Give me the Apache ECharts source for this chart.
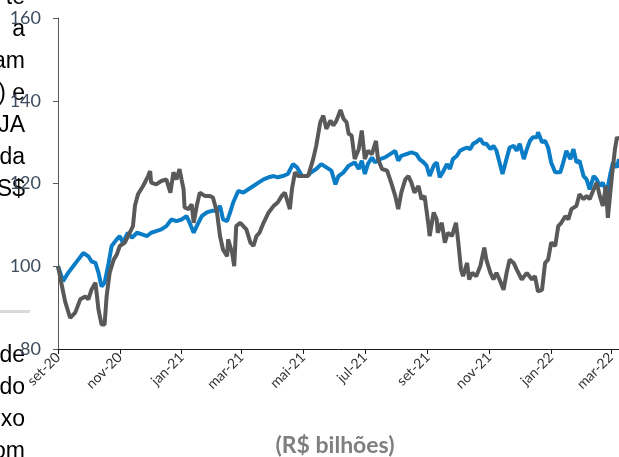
<!DOCTYPE html>
<html>
<head>
<meta charset="utf-8">
<script src="https://cdn.jsdelivr.net/npm/echarts@6/dist/echarts.min.js"></script>
<style>html,body{margin:0;padding:0;background:#fff}#c{width:619px;height:457px}</style>
</head>
<body>
<div id="c"></div>
<script>
// ---- data ----
const tickDates = ['2020-09-01','2020-11-01','2021-01-01','2021-03-01','2021-05-01','2021-07-01','2021-09-01','2021-11-01','2022-01-01','2022-03-01'];
const tickLabels = ['set-20','nov-20','jan-21','mar-21','mai-21','jul-21','set-21','nov-21','jan-22','mar-22'];
const yTicks = [80,100,120,140,160];
const xRange = ['2020-09-01','2022-03-09'];

const grayDates = ['2020-09-01','2020-09-05','2020-09-08','2020-09-13','2020-09-18','2020-09-23','2020-09-28','2020-10-01','2020-10-04','2020-10-08','2020-10-11','2020-10-14','2020-10-17','2020-10-19','2020-10-22','2020-10-26','2020-10-29','2020-11-01','2020-11-06','2020-11-11','2020-11-14','2020-11-16','2020-11-19','2020-11-24','2020-11-29','2020-12-01','2020-12-02','2020-12-07','2020-12-12','2020-12-17','2020-12-21','2020-12-24','2020-12-27','2020-12-30','2021-01-01','2021-01-03','2021-01-04','2021-01-08','2021-01-11','2021-01-13','2021-01-16','2021-01-19','2021-01-24','2021-01-29','2021-02-01','2021-02-05','2021-02-08','2021-02-11','2021-02-15','2021-02-16','2021-02-20','2021-02-22','2021-02-24','2021-02-28','2021-03-03','2021-03-06','2021-03-10','2021-03-13','2021-03-16','2021-03-19','2021-03-23','2021-03-28','2021-04-02','2021-04-06','2021-04-10','2021-04-13','2021-04-15','2021-04-18','2021-04-20','2021-04-23','2021-04-26','2021-05-01','2021-05-06','2021-05-11','2021-05-14','2021-05-18','2021-05-21','2021-05-24','2021-05-28','2021-05-31','2021-06-03','2021-06-07','2021-06-10','2021-06-13','2021-06-15','2021-06-18','2021-06-21','2021-06-25','2021-06-28','2021-07-01','2021-07-04','2021-07-08','2021-07-12','2021-07-14','2021-07-18','2021-07-23','2021-07-27','2021-07-31','2021-08-03','2021-08-06','2021-08-10','2021-08-13','2021-08-16','2021-08-19','2021-08-23','2021-08-26','2021-08-29','2021-09-02','2021-09-03','2021-09-07','2021-09-10','2021-09-11','2021-09-15','2021-09-18','2021-09-21','2021-09-25','2021-09-29','2021-10-01','2021-10-04','2021-10-06','2021-10-10','2021-10-12','2021-10-15','2021-10-19','2021-10-23','2021-10-27','2021-10-29','2021-11-02','2021-11-05','2021-11-08','2021-11-11','2021-11-15','2021-11-18','2021-11-21','2021-11-25','2021-11-28','2021-12-03','2021-12-08','2021-12-13','2021-12-16','2021-12-19','2021-12-23','2021-12-26','2021-12-29','2022-01-01','2022-01-05','2022-01-08','2022-01-11','2022-01-15','2022-01-18','2022-01-21','2022-01-26','2022-01-29','2022-02-02','2022-02-05','2022-02-08','2022-02-12','2022-02-15','2022-02-18','2022-02-21','2022-02-24','2022-02-26','2022-03-02','2022-03-05','2022-03-07','2022-03-09'];
const grayValues = [100,95.1,91.5,87.5,88.8,92,92.7,92,94.3,96,89.5,85.9,85.9,92.7,98.4,101.6,102.8,104.9,105.7,108.2,109.7,114.6,117.4,119.4,121.8,123,120.2,119.8,120.6,121,117.8,122.7,121,123.5,121,118.6,114.2,113.8,115,110.5,114.6,117.8,117,117,116.6,113,107.3,104,102.4,106.5,103.2,100,109.7,110.5,109.7,108.9,105.7,104.9,107.3,108.1,110.5,113,114.6,115.4,117,117.8,116.2,113.8,118.6,122.7,121.8,121.8,121.8,125.9,129.1,134.8,136.4,133.2,135.2,134,135.2,137.8,135.6,134.8,132,131.6,125.9,128.3,132.8,125.9,127.9,127.1,130.3,125.9,123.5,123.1,120.2,117,113.8,117.8,121,121.8,120.2,117.8,119.4,116.2,117,109.7,107.3,113,111.3,108.1,110.5,105.7,108.1,107.3,110.5,106.5,99.2,97.6,100.8,96.8,98.4,97.6,100,104.5,101.6,98.4,96.8,98.4,96.8,94.3,98.4,101.6,100.8,99.2,96.8,98.4,96.8,97.6,93.9,94.3,100.8,101.6,105.7,104.9,109.7,110.5,112.1,111.3,113.8,114.6,117.4,116.2,117,116.2,118.6,120.2,117,114.6,119.4,111.7,121.8,128.3,131.2,130.5];

const blueDates = ['2020-09-01','2020-09-06','2020-09-11','2020-09-16','2020-09-21','2020-09-26','2020-10-01','2020-10-04','2020-10-08','2020-10-11','2020-10-14','2020-10-17','2020-10-21','2020-10-24','2020-10-29','2020-11-01','2020-11-04','2020-11-09','2020-11-13','2020-11-18','2020-11-23','2020-11-28','2020-12-02','2020-12-07','2020-12-12','2020-12-17','2020-12-22','2020-12-27','2021-01-01','2021-01-06','2021-01-09','2021-01-13','2021-01-16','2021-01-21','2021-01-26','2021-01-31','2021-02-05','2021-02-08','2021-02-11','2021-02-15','2021-02-18','2021-02-21','2021-02-26','2021-03-03','2021-03-08','2021-03-13','2021-03-18','2021-03-23','2021-03-28','2021-04-02','2021-04-06','2021-04-11','2021-04-16','2021-04-21','2021-04-25','2021-04-30','2021-05-05','2021-05-09','2021-05-14','2021-05-19','2021-05-24','2021-05-29','2021-06-02','2021-06-05','2021-06-10','2021-06-15','2021-06-21','2021-06-25','2021-06-28','2021-07-01','2021-07-04','2021-07-08','2021-07-11','2021-07-16','2021-07-21','2021-07-26','2021-07-31','2021-08-03','2021-08-06','2021-08-11','2021-08-16','2021-08-21','2021-08-24','2021-08-28','2021-08-31','2021-09-03','2021-09-07','2021-09-10','2021-09-13','2021-09-16','2021-09-20','2021-09-23','2021-09-26','2021-09-30','2021-10-03','2021-10-06','2021-10-10','2021-10-13','2021-10-16','2021-10-19','2021-10-23','2021-10-26','2021-10-29','2021-11-02','2021-11-05','2021-11-08','2021-11-11','2021-11-14','2021-11-17','2021-11-21','2021-11-25','2021-11-28','2021-12-01','2021-12-05','2021-12-08','2021-12-11','2021-12-14','2021-12-18','2021-12-19','2021-12-23','2021-12-26','2021-12-29','2022-01-01','2022-01-05','2022-01-10','2022-01-13','2022-01-16','2022-01-20','2022-01-23','2022-01-26','2022-01-29','2022-02-02','2022-02-05','2022-02-08','2022-02-12','2022-02-15','2022-02-18','2022-02-21','2022-02-25','2022-02-28','2022-03-03','2022-03-07','2022-03-09'];
const blueValues = [100,96.4,98.4,100,101.6,103.2,102.4,101.2,100.8,98.4,95.1,96,100.8,104.9,106.5,107.3,105.7,108.1,106.9,108.1,107.7,107.3,108.1,108.5,108.9,109.7,111.3,110.9,111.3,112.1,110.5,108.1,109.7,112.1,113,113.4,113.4,114.6,111.3,110.9,113,115.4,118.2,117.8,118.6,119.4,120.2,121,121.5,121.8,121.5,121.8,122.3,124.7,123.9,121.8,121.8,122.7,123.5,124.7,123.9,123.1,119.8,121.8,122.7,124.3,125.1,123.5,125.5,122.3,124.7,126.3,125.1,125.9,126.3,127.1,127.9,125.5,126.7,127.1,127.5,127.1,125.9,125.1,124.3,121.8,124.3,125.1,121.5,122.7,124.7,123.5,125.9,126.7,127.9,128.3,128.7,128.3,129.6,130,130.8,129.6,129.6,128.3,129.1,127.9,125.1,122.3,125.1,128.7,129.1,127.9,129.6,125.9,128.3,130.3,131.2,131.2,132.4,130,130.3,128.7,125.1,122.7,122.7,125.1,127.9,125.9,128.3,125.1,125.5,121.8,121,118.6,121.8,121,119.4,120.2,117.8,121.8,125.1,123.9,125.9];

const titleText = '(R$ bilhões)';
const upperFragments = ['te','a','am',') e','JA','da','S$'];
const lowerFragments = ['de','do','xo','om'];

// ---- chart ----
const ts = d => +echarts.time.parse(d);
const zip = (d, v) => d.map((x, i) => [ts(x), v[i]]);
const tickTs = tickDates.map(ts);

const fragFont = '23px "Liberation Sans"';
const graphics = [];
upperFragments.forEach((t, i) => graphics.push({
  type: 'text', x: 25, y: -2 + i * 32,
  style: { text: t, fill: '#000', font: fragFont, align: 'right', verticalAlign: 'middle' }, z: 0
}));
lowerFragments.forEach((t, i) => graphics.push({
  type: 'text', x: 25, y: 356 + i * 32,
  style: { text: t, fill: '#000', font: fragFont, align: 'right', verticalAlign: 'middle' }, z: 0
}));
graphics.push({ type: 'rect', shape: { x: 0, y: 310, width: 30, height: 3 }, style: { fill: '#d9d9d9' }, z: 0 });
graphics.push({
  type: 'text', x: 335, y: 446,
  style: { text: titleText, fill: '#7f7f7f', font: 'bold 23px Lato', align: 'center', verticalAlign: 'middle' }, z: 5
});

const chart = echarts.init(document.getElementById('c'), null, { renderer: 'canvas' });
chart.setOption({
  animation: false,
  backgroundColor: '#fff',
  graphic: graphics,
  grid: { left: 58, right: 0, top: 18, bottom: 108, containLabel: false },
  xAxis: {
    type: 'value',
    min: ts(xRange[0]), max: ts(xRange[1]),
    axisLine: { show: true, onZero: false, lineStyle: { color: '#1a1a1a', width: 1 } },
    axisTick: { show: true, length: 5, inside: false, customValues: tickTs, lineStyle: { color: '#1a1a1a' } },
    axisLabel: {
      show: true, rotate: 45, margin: 6, customValues: tickTs,
      color: '#333333', fontFamily: 'Lato', fontSize: 14,
      formatter: (val) => { const i = tickTs.indexOf(val); return i >= 0 ? tickLabels[i] : ''; },
      showMinLabel: true, showMaxLabel: true, hideOverlap: false
    },
    splitLine: { show: false }
  },
  yAxis: {
    type: 'value', min: yTicks[0], max: yTicks[yTicks.length - 1], interval: 20,
    axisLine: { show: true, lineStyle: { color: '#595959', width: 1 } },
    axisTick: { show: true, length: 5, lineStyle: { color: '#595959' } },
    axisLabel: { color: '#3d4d5e', fontFamily: 'Lato', fontSize: 18, margin: 17 },
    splitLine: { show: false }
  },
  series: [
    {
      type: 'line', data: zip(blueDates, blueValues), showSymbol: false, symbol: 'none',
      lineStyle: { color: '#0b7dc7', width: 4 }, z: 3
    },
    {
      type: 'line', data: zip(grayDates, grayValues), showSymbol: false, symbol: 'none',
      lineStyle: { color: '#595959', width: 4 }, z: 4
    }
  ]
});
</script>
</body>
</html>
